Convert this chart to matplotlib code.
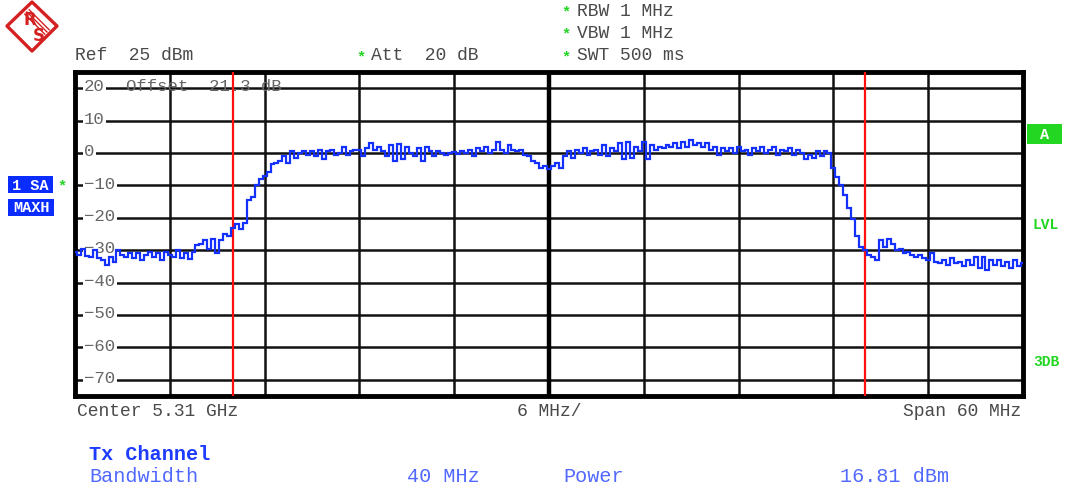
import numpy as np
import matplotlib
matplotlib.use("Agg")
import matplotlib.pyplot as plt
from matplotlib.patches import Rectangle, Polygon
import matplotlib.transforms as mtransforms

# ---------------- data ----------------
center_ghz = 5.31
span_mhz = 60
ref_level = 25
y_bottom = -75
grid_db = [20, 10, 0, -10, -20, -30, -40, -50, -60, -70]
grid_labels = ["20", "10", "0", "\u221210", "\u221220", "\u221230", "\u221240", "\u221250", "\u221260", "\u221270"]
freq_grid = [-24, -18, -12, -6, 6, 12, 18, 24]
channel_edges = [-20, 20]

freq_start = -30.0
freq_step = 0.25
trace_db = [
    # -30 .. -25.25
    -30.5, -31.5, -29.5, -31.8, -32.0, -30.0, -32.5, -33.0, -34.5, -32.0,
    -33.5, -30.0, -31.5, -32.0, -30.8, -32.5, -31.0, -33.0, -31.5, -30.5,
    # -25 .. -20.25
    -32.0, -31.0, -33.0, -30.5, -31.5, -32.0, -30.0, -32.5, -31.0, -32.8,
    -30.5, -28.5, -28.0, -27.0, -29.5, -26.5, -31.0, -27.0, -25.0, -25.5,
    # -20 .. -15.25
    -23.0, -22.0, -23.5, -21.5, -14.5, -13.5, -10.0, -8.0, -7.0, -6.0,
    -3.5, -3.0, -2.5, -1.0, -3.0, 0.5, -1.5, 0.0, 0.5, -0.5,
    # -15 .. -10.25
    0.5, -1.0, 0.8, -2.0, 0.5, 1.0, -0.5, 0.0, 2.0, -0.5,
    0.5, 0.8, 1.0, -0.8, 1.5, 3.0, 1.0, 2.0, 0.5, -1.0,
    # -10 .. -5.25
    2.5, -2.5, 2.8, -2.0, 2.0, 0.0, -1.0, 1.5, -2.5, 2.0,
    0.5, -0.8, 0.5, 0.0, -0.5, 0.0, 0.2, -0.3, 0.5, 0.0,
    # -5 .. -0.25
    0.8, -1.0, 1.5, 0.5, 2.0, 0.0, 1.0, 3.5, 1.0, 0.0,
    2.5, 1.0, 0.5, 1.0, -0.5, -1.0, -2.5, -3.0, -4.5, -4.0,
    # 0 .. 4.75
    -5.0, -4.0, -3.0, -4.5, -1.0, 0.5, -1.5, 1.0, 0.0, 1.5,
    -0.5, 0.5, 1.0, -0.5, 2.5, -1.0, 1.5, 0.5, 3.0, -2.0,
    # 5 .. 9.75
    3.5, -1.5, 2.0, 0.5, 3.5, -2.0, 2.5, 1.0, 2.0, 1.5,
    2.5, 2.0, 3.0, 1.5, 3.5, 2.0, 4.0, 2.5, 3.0, 2.0,
    # 10 .. 14.75
    3.0, 1.0, 2.0, -0.5, 1.5, 0.5, 1.5, 0.0, 2.0, 0.5,
    1.0, -0.5, 1.5, 0.5, 2.0, 0.0, 1.0, 2.0, -0.5, 1.0,
    # 15 .. 19.75
    0.5, 1.5, -0.5, 0.8, 0.0, -2.0, -0.5, -1.5, 0.5, -1.0,
    0.5, 0.0, -4.5, -7.5, -10.0, -13.0, -17.0, -20.5, -25.5, -29.0,
    # 20 .. 24.75
    -30.0, -31.5, -32.0, -33.0, -27.0, -29.0, -26.5, -28.0, -30.0, -29.5,
    -31.0, -30.5, -31.5, -32.0, -31.5, -32.5, -33.0, -31.0, -33.5, -34.0,
    # 25 .. 30
    -33.0, -34.5, -32.5, -34.0, -33.5, -35.0, -33.0, -34.5, -32.0, -35.5,
    -32.0, -36.0, -33.0, -34.5, -33.0, -35.0, -33.5, -35.5, -33.0, -35.0,
    -34.0,
]
trace_freq = [freq_start + i * freq_step for i in range(len(trace_db))]

# ---------------- figure ----------------
W, H = 1066, 489
fig = plt.figure(figsize=(W / 100, H / 100), dpi=100, facecolor="white")

MONO = ["Liberation Mono", "DejaVu Sans Mono"]
TXT = "#4a4a4a"
LBL = "#666666"
GREEN = "#22d622"
BLUE_BOX = "#0a2cff"
BLUE_TXT = "#5068ff"

x0, x1, y0, y1 = 75, 1023, 73, 397
ax = fig.add_axes([x0 / W, 1 - y1 / H, (x1 - x0) / W, (y1 - y0) / H])
ax.set_xlim(-span_mhz / 2, span_mhz / 2)
ax.set_ylim(y_bottom, ref_level)
ax.set_xticks([])
ax.set_yticks([])
for s in ax.spines.values():
    s.set_linewidth(3.5)
    s.set_color("black")

for v in grid_db:
    ax.axhline(v, color="#111111", lw=1.8, zorder=1)
for f in freq_grid:
    ax.axvline(f, color="#111111", lw=1.8, zorder=1)
ax.axvline(0, color="black", lw=3.2, zorder=1)

blend = mtransforms.blended_transform_factory(ax.transAxes, ax.transData)
for v, lab in zip(grid_db, grid_labels):
    ax.text(9 / 948, v - 0.7, lab, transform=blend, family=MONO, fontsize=12.5,
            color=LBL, ha="left", va="baseline", zorder=2,
            bbox=dict(boxstyle="square,pad=0.08", fc="white", ec="none"))
ax.text(51 / 948, 20 - 0.7, "Offset  21.3 dB", transform=blend, family=MONO,
        fontsize=12.5, color=LBL, ha="left", va="baseline", zorder=2)

for e in channel_edges:
    ax.axvline(e, color="#ff1010", lw=1.6, zorder=3)

ax.plot(trace_freq, trace_db, color="#1430ff", lw=1.6, drawstyle="steps-mid",
        zorder=4, solid_joinstyle="miter")

# ---------------- overlay (pixel coords) ----------------
ov = fig.add_axes([0, 0, 1, 1], facecolor="none")
ov.set_xlim(0, W)
ov.set_ylim(H, 0)
ov.axis("off")

def t(x, y, s, **kw):
    d = dict(family=MONO, fontsize=13, color=TXT, ha="left", va="center")
    d.update(kw)
    ov.text(x, y, s, **d)

# logo
RED = "#d42020"
diamond = Polygon([(32, 3), (57, 27), (32, 52), (7, 27)], closed=True,
                  fill=False, ec=RED, lw=2.4, joinstyle="round")
ov.add_patch(diamond)
for k in (-2.2, 0, 2.2):
    ov.plot([27 + k, 47 + k], [13 - k, 33 - k], color=RED, lw=1.0)
t(23.5, 20, "R", color=RED, fontsize=12, weight="bold", family=["DejaVu Sans"])
t(33, 36, "S", color=RED, fontsize=12, weight="bold", family=["DejaVu Sans"])

# header
t(75, 56, "Ref  25 dBm")
t(361, 57, "*", color=GREEN, fontsize=11, weight="bold", ha="center")
t(371, 56, "Att  20 dB")
for yy, s in [(11, "RBW 1 MHz"), (33, "VBW 1 MHz"), (56, "SWT 500 ms")]:
    t(566, yy + 1, "*", color=GREEN, fontsize=11, weight="bold", ha="center")
    t(577, yy, s)

# left trace info boxes
ov.add_patch(Rectangle((8, 177), 45, 17, fc=BLUE_BOX, ec="none"))
t(30.5, 185.5, "1 SA", color="white", weight="bold", fontsize=11, ha="center")
ov.add_patch(Rectangle((8, 200), 46, 17, fc=BLUE_BOX, ec="none"))
t(31, 208.5, "MAXH", color="white", weight="bold", fontsize=11, ha="center")
t(62, 186, "*", color=GREEN, fontsize=11, weight="bold", ha="center")

# right side
ov.add_patch(Rectangle((1027, 125), 35, 20, fc=GREEN, ec="none"))
t(1044.5, 135, "A", color="white", weight="bold", fontsize=11, ha="center")
t(1046, 225, "LVL", color=GREEN, weight="bold", fontsize=10.5, ha="center")
t(1046, 362, "3DB", color=GREEN, weight="bold", fontsize=10.5, ha="center")

# bottom
t(77, 411, "Center 5.31 GHz")
t(517, 411, "6 MHz/")
t(1021, 411, "Span 60 MHz", ha="right")

t(89, 455, "Tx Channel", color="#1e3cff", weight="bold", fontsize=14.5)
t(89, 477, "Bandwidth", color=BLUE_TXT, fontsize=14.5)
t(407, 477, "40 MHz", color=BLUE_TXT, fontsize=14.5)
t(563, 477, "Power", color=BLUE_TXT, fontsize=14.5)
t(840, 477, "16.81 dBm", color=BLUE_TXT, fontsize=14.5)

fig.savefig("out.png", dpi=100, facecolor="white")
